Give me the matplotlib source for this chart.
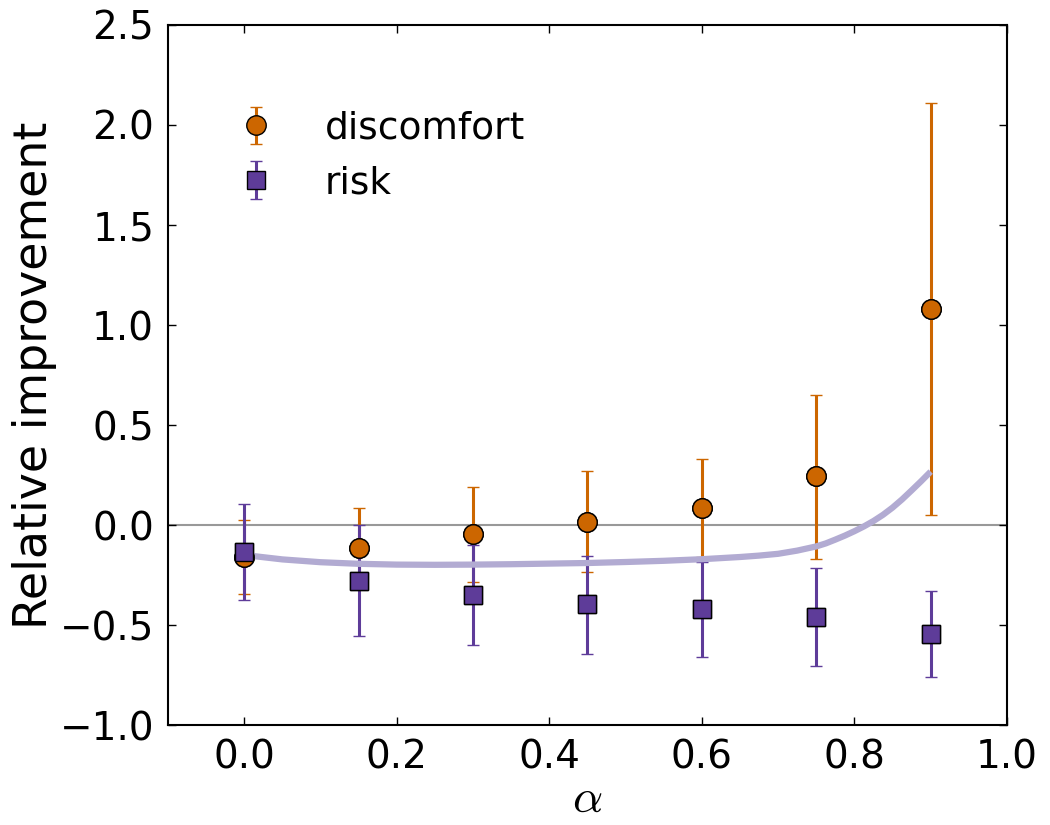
import numpy as np
import matplotlib
matplotlib.use('Agg')
import matplotlib.pyplot as plt

plt.rcParams['font.family'] = ['DejaVu Sans']
plt.rcParams['mathtext.fontset'] = 'cm'

# alpha values
alpha = [0.0, 0.15, 0.3, 0.45, 0.6, 0.75, 0.9]

# discomfort: mean, lower / upper ends of the error bars
disc_mean = [-0.16, -0.113, -0.047, 0.017, 0.085, 0.243, 1.08]
disc_low = [-0.346, -0.31, -0.285, -0.235, -0.16, -0.168, 0.049]
disc_high = [0.027, 0.087, 0.19, 0.27, 0.33, 0.65, 2.11]

# risk
risk_mean = [-0.133, -0.278, -0.351, -0.397, -0.422, -0.458, -0.545]
risk_low = [-0.376, -0.553, -0.602, -0.643, -0.66, -0.703, -0.76]
risk_high = [0.106, 0.0, -0.10, -0.153, -0.186, -0.213, -0.33]

# smooth trend line
curve_x = [0.0, 0.05, 0.1, 0.15, 0.2, 0.25, 0.3, 0.35, 0.4, 0.45, 0.5,
           0.55, 0.6, 0.65, 0.675, 0.7, 0.725, 0.75, 0.7625, 0.775, 0.7875,
           0.8, 0.8125, 0.825, 0.8375, 0.85, 0.8625, 0.875, 0.8875, 0.9]
curve_y = [-0.15, -0.172, -0.186, -0.194, -0.198, -0.199, -0.198, -0.196,
           -0.193, -0.19, -0.185, -0.179, -0.171, -0.16, -0.153, -0.144,
           -0.128, -0.107, -0.092, -0.073, -0.053, -0.031, -0.007, 0.02,
           0.051, 0.087, 0.128, 0.173, 0.219, 0.267]

orange = '#cc6600'
purple = '#5e3c99'
light = '#b2abd2'

fig = plt.figure(figsize=(10.5, 8.25), dpi=100)
ax = fig.add_axes([0.16, 0.1212, 0.799, 0.8485])

ax.axhline(0, color='#999999', lw=1.5, zorder=0)

d = np.array(disc_mean)
r = np.array(risk_mean)
derr = [d - np.array(disc_low), np.array(disc_high) - d]
rerr = [r - np.array(risk_low), np.array(risk_high) - r]

ax.errorbar(alpha, disc_mean, yerr=derr, fmt='o', color=orange, ecolor=orange,
            mec='black', mew=1, ms=14, elinewidth=2.2, capsize=4.5, capthick=1.2,
            label='discomfort', zorder=1)
ax.errorbar(alpha, risk_mean, yerr=rerr, fmt='s', color=purple, ecolor=purple,
            mec='black', mew=1, ms=13, elinewidth=2.2, capsize=4.5, capthick=1.2,
            label='risk', zorder=1)

ax.plot(curve_x, curve_y, color=light, lw=4.5, zorder=2, solid_capstyle='butt')

ax.plot(alpha, disc_mean, 'o', color=orange, mec='black', mew=1, ms=14, zorder=3)
ax.plot(alpha, risk_mean, 's', color=purple, mec='black', mew=1, ms=13, zorder=4)

ax.set_xlim(-0.1, 1.0)
ax.set_ylim(-1.0, 2.5)
ax.set_xticks(np.arange(0, 1.01, 0.2))
ax.set_yticks(np.arange(-1.0, 2.51, 0.5))
ax.set_xticklabels(['%.1f' % v for v in np.arange(0, 1.01, 0.2)])
ax.set_yticklabels(['\u22121.0' if v < -0.9 else ('\u22120.5' if v < 0 else '%.1f' % v)
                    for v in np.arange(-1.0, 2.51, 0.5)])
ax.tick_params(direction='in', length=6, width=1, labelsize=28, pad=10,
               top=True, right=True)
for s in ax.spines.values():
    s.set_linewidth(1.5)

ax.set_xlabel(r'$\alpha$', fontsize=34, labelpad=0)
ax.set_ylabel('Relative improvement', fontsize=33, labelpad=2)

ax.legend(loc='upper left', bbox_to_anchor=(0.02, 0.926), frameon=False,
          numpoints=1, fontsize=27, handletextpad=0.83, labelspacing=0.5)

fig.savefig('out.png', dpi=100)
